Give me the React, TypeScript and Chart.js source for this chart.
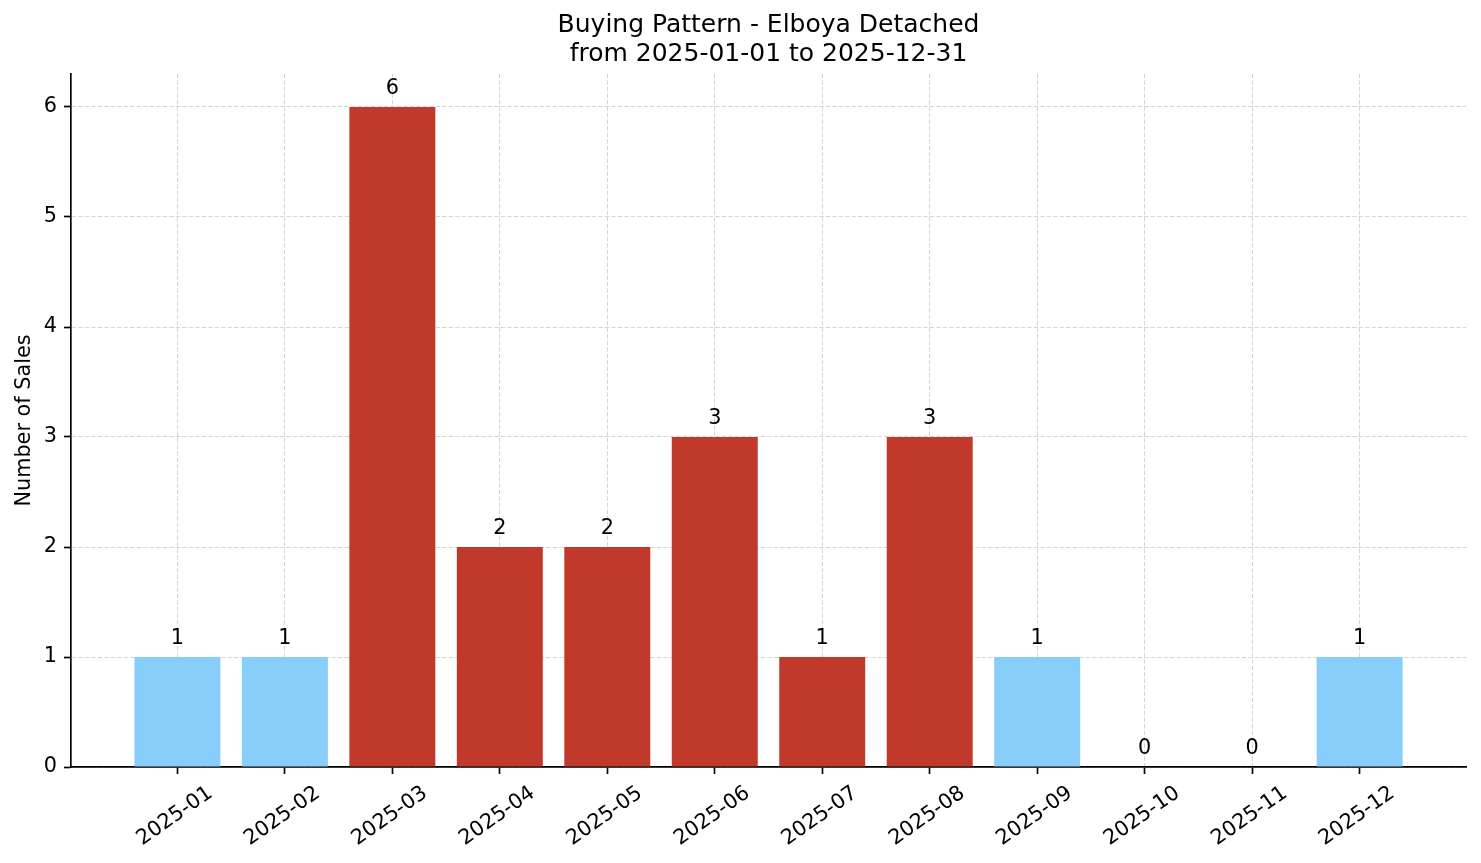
import React, { useEffect, useRef } from "react";
import { Chart, registerables } from "chart.js";

Chart.register(...registerables);

const months = [
  "2025-01", "2025-02", "2025-03", "2025-04", "2025-05", "2025-06",
  "2025-07", "2025-08", "2025-09", "2025-10", "2025-11", "2025-12",
];
const sales = [1, 1, 6, 2, 2, 3, 1, 3, 1, 0, 0, 1];
// highlighted months (red) vs the rest (light blue)
const highlighted = [false, false, true, true, true, true, true, true, false, false, false, false];
const yTicks = [0, 1, 2, 3, 4, 5, 6];

const BLUE = "#87CEFA";
const RED = "#C0392B";
const GRID = "rgba(185,185,185,0.6)";
const FONT = "'DejaVu Sans', sans-serif";

const barLabels = {
  id: "barLabels",
  afterDatasetsDraw(chart: any) {
    const ctx = chart.ctx;
    const meta = chart.getDatasetMeta(0);
    ctx.save();
    ctx.fillStyle = "#000";
    ctx.font = `20.8px ${FONT}`;
    ctx.textAlign = "center";
    ctx.textBaseline = "alphabetic";
    meta.data.forEach((bar: any, i: number) => {
      ctx.fillText(String(sales[i]), bar.x, bar.y - 13.5);
    });
    ctx.restore();
  },
};

const App = () => {
  const ref = useRef<HTMLCanvasElement>(null!);

  useEffect(() => {
    const chart = new Chart(ref.current, {
      type: "bar",
      data: {
        datasets: [
          {
            data: sales.map((v, i) => ({ x: i, y: v })),
            backgroundColor: highlighted.map((h) => (h ? RED : BLUE)),
            barPercentage: 0.8,
            categoryPercentage: 1,
          },
        ],
      },
      options: {
        animation: false,
        responsive: false,
        layout: { padding: { left: 0, right: 15, top: 0, bottom: 0 } },
        plugins: {
          legend: { display: false },
          tooltip: { enabled: false },
          title: {
            display: true,
            fullSize: false,
            text: ["Buying Pattern - Elboya Detached", "from 2025-01-01 to 2025-12-31"],
            color: "#000",
            font: { family: FONT, size: 25, weight: "normal", lineHeight: 1.16 },
            padding: { top: 10.5, bottom: 5.5 },
          },
        },
        scales: {
          x: {
            type: "linear",
            min: -0.99,
            max: 11.99,
            offset: false,
            z: 1,
            afterBuildTicks: (scale: any) => {
              scale.ticks = months.map((_, i) => ({ value: i }));
            },
            afterFit: (scale: any) => {
              scale.height = 96;
            },
            grid: {
              offset: false,
              color: GRID,
              lineWidth: 1,
              tickColor: "#000",
              tickWidth: 1.67,
              tickLength: 7,
              tickBorderDash: [],
            },
            border: { display: true, color: "#000", width: 1.67, dash: [4.5, 2] },
            ticks: {
              autoSkip: false,
              minRotation: 35,
              maxRotation: 35,
              labelOffset: 33,
              padding: 7,
              color: "#000",
              font: { family: FONT, size: 20.8 },
              callback: (v: any) => months[v] ?? "",
            },
          },
          y: {
            min: 0,
            max: 6.3,
            z: 1,
            afterBuildTicks: (scale: any) => {
              scale.ticks = yTicks.map((v) => ({ value: v }));
            },
            afterFit: (scale: any) => {
              scale.width = 71;
            },
            grid: {
              color: GRID,
              lineWidth: 1,
              tickColor: "#000",
              tickWidth: 1.67,
              tickLength: 7,
              tickBorderDash: [],
            },
            border: { display: true, color: "#000", width: 1.67, dash: [4.5, 2] },
            ticks: {
              padding: 7,
              color: "#000",
              font: { family: FONT, size: 20.8 },
            },
            title: {
              display: true,
              text: "Number of Sales",
              color: "#000",
              font: { family: FONT, size: 20.8 },
              padding: { top: 12, bottom: 0 },
            },
          },
        },
      } as any,
      plugins: [barLabels],
    });
    return () => {
      chart.destroy();
    };
  }, []);

  return (
    <div style={{ position: "fixed", left: 0, top: 0, width: 1481, height: 863, background: "#fff" }}>
      <canvas ref={ref} width={1481} height={863} />
    </div>
  );
};

export default App;
